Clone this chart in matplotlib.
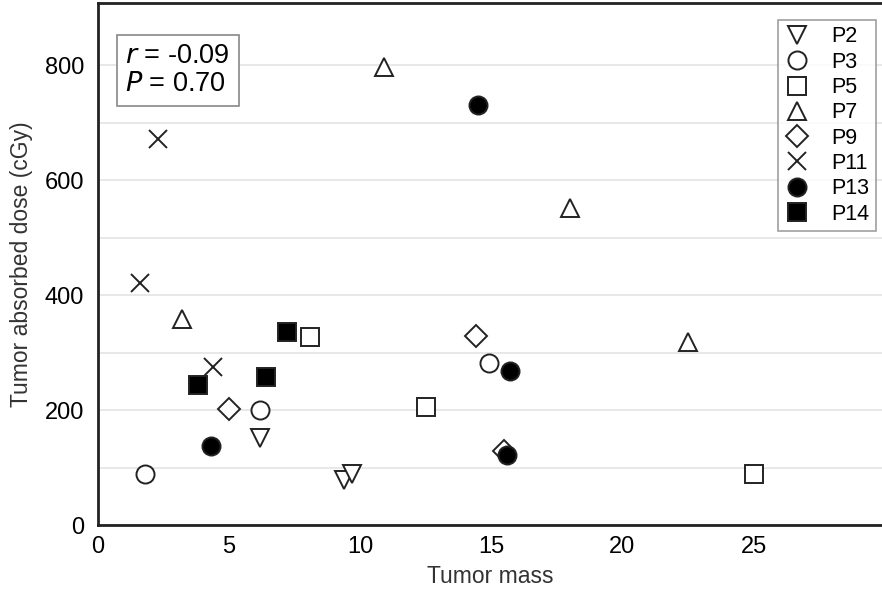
import matplotlib.pyplot as plt

plt.rcParams['font.family'] = ['Liberation Sans', 'DejaVu Sans']

# tumor mass vs absorbed dose, per patient
p2_x = [6.2, 9.4, 9.7]
p2_y = [151, 78, 88]
p3_x = [1.8, 6.2, 14.9]
p3_y = [89, 200, 282]
p5_x = [8.1, 12.5, 25.0]
p5_y = [327, 205, 89]
p7_x = [10.9, 3.2, 18.0, 22.5]
p7_y = [797, 358, 551, 318]
p9_x = [5.0, 14.4, 15.5]
p9_y = [202, 329, 129]
p11_x = [2.3, 1.6, 4.4]
p11_y = [671, 421, 275]
p13_x = [14.5, 4.3, 15.7, 15.6]
p13_y = [730, 137, 268, 122]
p14_x = [3.8, 6.4, 7.2]
p14_y = [243, 257, 336]

r_val = -0.09
p_val = 0.70

fig = plt.figure(figsize=(8.82, 5.94), dpi=100)
ax = fig.add_axes([0.111, 0.116, 0.889, 0.879])

series = [
    ('P2', p2_x, p2_y, 'v', 'white'),
    ('P3', p3_x, p3_y, 'o', 'white'),
    ('P5', p5_x, p5_y, 's', 'white'),
    ('P7', p7_x, p7_y, '^', 'white'),
    ('P9', p9_x, p9_y, 'D', 'white'),
    ('P11', p11_x, p11_y, 'x', 'black'),
    ('P13', p13_x, p13_y, 'o', 'black'),
    ('P14', p14_x, p14_y, 's', 'black'),
]
sizes = {'v': 13, 'o': 13, 's': 12.5, '^': 13, 'D': 11, 'x': 13}
for name, xs, ys, m, fc in series:
    ax.plot(xs, ys, linestyle='none', marker=m, markersize=sizes[m],
            markerfacecolor=fc, markeredgecolor='#222222',
            markeredgewidth=1.4, label=name, zorder=3)

ax.set_xlim(0, 29.9)
ax.set_ylim(0, 908)
ax.set_xticks([0, 5, 10, 15, 20, 25])
ax.set_yticks([0, 200, 400, 600, 800])
ax.set_yticks(range(100, 900, 100), minor=True)
ax.grid(axis='y', which='both', color='#e4e4e4', linewidth=1.2, zorder=0)
ax.tick_params(axis='both', which='both', length=0, labelsize=17, pad=8)
ax.tick_params(axis='y', pad=10)

for side in ['left', 'bottom', 'top']:
    ax.spines[side].set_linewidth(2)
    ax.spines[side].set_color('#222222')
ax.spines['right'].set_visible(False)

ax.set_xlabel('Tumor mass', fontsize=16.5, color='#333333', labelpad=5)
ax.set_ylabel('Tumor absorbed dose (cGy)', fontsize=16.5, color='#333333', labelpad=8)

ax.text(1.05, 838, '$\\it{r}$ = %.2f\n$\\it{P}$ = %.2f' % (r_val, p_val),
        fontsize=19.5, va='top', ha='left', linespacing=1.1,
        bbox=dict(boxstyle='square,pad=0.32', facecolor='white',
                  edgecolor='#888888', linewidth=1.2), zorder=4)

leg = ax.legend(loc='upper right', bbox_to_anchor=(1.006, 0.988), fontsize=15.5,
                frameon=True, fancybox=False, edgecolor='#888888',
                handletextpad=1.0, labelspacing=0.2, borderpad=0.3,
                handlelength=1.2)
leg.get_frame().set_linewidth(1.2)

fig.savefig('out.png', dpi=100)
